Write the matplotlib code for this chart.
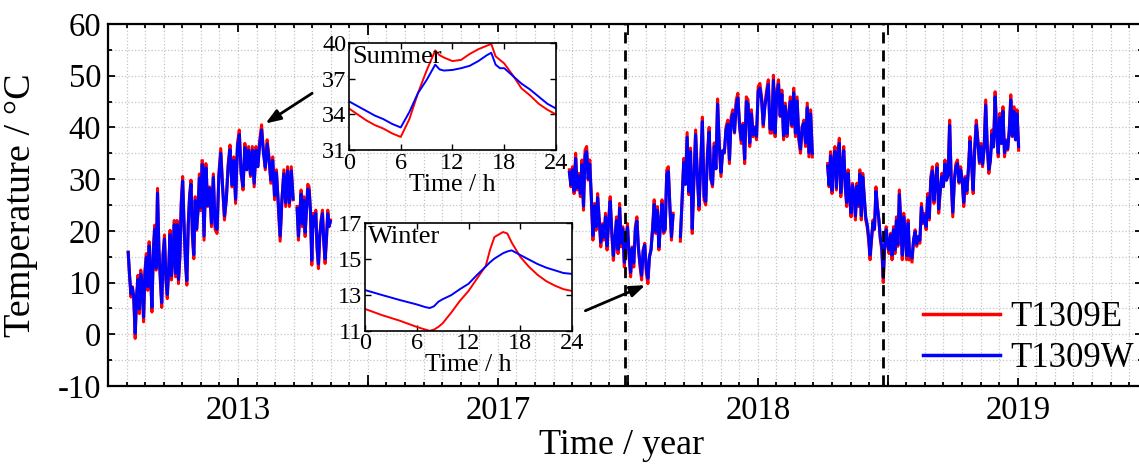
import numpy as np
import matplotlib.pyplot as plt
from matplotlib.ticker import MultipleLocator, FixedLocator, FixedFormatter

plt.rcParams['font.family'] = ['Liberation Serif', 'DejaVu Serif']
plt.rcParams['axes.unicode_minus'] = False

# time axis in days, one 365-day block per year label
year_labels = ['2013', '2017', '2018', '2019']
year_len = 365
x_end = 1452
marker_days = [726.6, 1088.8]

# daily record pieces: (first day, last day), T1309E, T1309W
a1_days = (28.4, 132.3)
a1_e = [15.9, 11.1, 7.2, 9.2, 6.6, -0.8, 7.2, 11.4, 4.0, 12.4, 9.8, 2.4, 12.4, 15.6, 8.5, 17.9, 11.7, 4.3,
        16.6, 21.1, 12.4, 28.2, 16.3, 10.5, 5.2, 15.6, 19.2, 10.5, 6.9, 12.4, 20.1, 10.5, 14.9, 22.0, 11.1,
        22.0, 9.8, 14.9, 25.6, 30.5, 21.4, 13.7, 9.5, 21.4, 27.2, 29.8, 18.8, 14.6, 26.6, 20.1, 23.9, 31.0,
        23.9, 33.5]
a1_w = [15.8, 11.3, 7.8, 9.0, 7.2, 0.2, 7.4, 10.6, 4.9, 11.6, 9.8, 3.3, 11.7, 14.9, 9.2, 17.1, 11.7, 5.2,
        16.0, 20.3, 12.8, 27.3, 16.3, 11.0, 6.1, 15.4, 18.4, 11.0, 7.7, 12.6, 19.3, 11.3, 14.9, 21.2, 11.8,
        21.2, 10.6, 15.0, 24.9, 29.6, 21.2, 14.4, 10.4, 21.0, 26.5, 29.0, 19.4, 15.4, 25.9, 20.4, 23.9, 30.2,
        24.5, 32.7]

a2_days = (132.3, 260.0)
a2_e = [33.5, 18.2, 33.0, 24.7, 28.5, 20.8, 31.0, 20.2, 19.5, 31.1, 35.9, 28.5, 22.1, 26.0, 33.0, 36.6,
        28.5, 34.3, 25.3, 36.9, 39.5, 31.1, 27.9, 36.9, 31.8, 36.3, 30.5, 36.3, 28.5, 36.3, 32.4, 37.6,
        40.5, 35.6, 31.8, 37.6, 34.3, 29.2, 34.3, 26.0, 31.8, 24.7, 18.0, 26.0, 31.8, 24.7, 32.4, 24.7,
        32.4, 26.0]
a2_w = [32.7, 19.0, 32.2, 24.9, 28.2, 21.5, 30.3, 20.9, 20.3, 30.5, 35.0, 28.5, 22.9, 26.2, 32.4, 35.7,
        28.9, 33.6, 26.1, 36.1, 38.6, 31.1, 28.6, 36.1, 31.8, 35.6, 30.9, 35.6, 29.2, 35.6, 32.4, 36.8,
        39.5, 35.1, 32.3, 36.8, 33.8, 29.8, 33.6, 26.8, 31.2, 25.5, 19.0, 26.3, 31.0, 25.4, 31.6, 25.4,
        31.6, 26.2]

a3_days = (265.6, 312.4)
a3_e = [24.7, 18.2, 23.4, 27.9, 20.8, 26.6, 18.9, 24.0, 29.0, 28.5, 24.0, 13.4, 23.4, 20.8, 24.0, 16.3,
        12.7, 18.9, 22.1, 24.0, 17.6, 13.7, 18.2, 24.0, 20.8, 22.1]
a3_w = [24.3, 19.0, 23.3, 27.1, 21.4, 25.9, 19.7, 23.8, 28.1, 27.8, 23.8, 14.3, 22.8, 21.0, 23.4, 16.9,
        13.6, 19.1, 21.7, 23.3, 18.1, 14.6, 18.6, 23.3, 20.9, 21.8]

b_days = (647.9, 793.5)
b_e = [31.8, 28.5, 32.4, 27.2, 35.0, 27.9, 31.1, 26.6, 33.7, 24.0, 35.6, 36.3, 29.8, 33.7, 26.0, 18.2,
       25.3, 20.1, 27.2, 22.1, 16.9, 21.4, 18.2, 23.4, 16.3, 22.1, 26.6, 19.5, 14.3, 18.2, 22.7, 15.6,
       25.3, 16.9, 20.8, 13.0, 18.2, 21.4, 15.0, 11.1, 16.9, 13.0, 20.8, 22.7, 16.3, 13.0, 10.5, 16.3,
       17.6, 11.8, 9.8, 15.0, 16.3, 20.8, 26.0, 19.5, 24.7, 16.3, 21.4, 26.0, 19.5, 20.1, 31.8, 32.4,
       24.7, 18.2, 23.4]
b_w = [31.3, 28.9, 31.8, 27.7, 34.0, 28.3, 30.6, 27.2, 32.8, 24.8, 34.6, 35.3, 30.1, 32.9, 26.5, 19.1,
       24.8, 20.8, 26.4, 22.3, 17.8, 21.0, 18.8, 22.7, 17.1, 21.8, 25.7, 19.9, 15.2, 18.4, 22.0, 16.4,
       24.4, 17.6, 20.4, 13.9, 18.2, 20.7, 15.7, 12.0, 16.6, 13.8, 20.1, 21.9, 16.6, 13.8, 11.4, 16.2,
       17.2, 12.6, 10.8, 15.0, 16.4, 20.3, 25.1, 19.9, 24.0, 16.9, 21.0, 25.2, 19.9, 20.4, 30.9, 31.5,
       24.6, 18.9, 23.0]

c_days = (803.8, 989.1)
c_e = [18.0, 26.0, 34.0, 29.0, 39.0, 27.0, 36.0, 19.5, 30.0, 39.5, 31.0, 24.0, 33.0, 42.0, 26.0, 25.0,
       35.0, 40.0, 30.0, 28.5, 37.0, 32.0, 45.5, 36.3, 30.5, 35.6, 35.0, 40.1, 41.4, 33.0, 42.1, 43.4,
       38.9, 45.3, 46.6, 40.1, 36.9, 40.8, 33.0, 45.9, 45.3, 36.3, 43.4, 38.2, 40.1, 37.6, 47.9, 48.5,
       45.9, 40.1, 44.7, 47.2, 49.2, 38.9, 38.9, 50.1, 38.2, 47.2, 49.2, 42.1, 47.2, 37.6, 44.7, 38.2,
       42.7, 45.9, 40.1, 47.6, 38.2, 45.9, 37.6, 35.0, 40.1, 41.4, 36.3, 44.7, 34.3, 43.4, 34.3]
c_w = [18.9, 25.8, 33.2, 29.0, 38.1, 27.6, 35.3, 20.4, 29.8, 38.6, 30.8, 24.8, 32.6, 41.1, 26.7, 25.7,
       34.5, 39.1, 30.2, 29.0, 36.3, 32.0, 44.5, 36.6, 31.3, 35.4, 35.2, 39.6, 40.6, 33.8, 41.3, 42.6,
       39.1, 44.4, 45.7, 40.3, 37.6, 40.4, 33.9, 45.0, 44.5, 37.0, 42.6, 38.6, 39.9, 38.3, 47.0, 47.6,
       45.3, 40.6, 44.1, 46.4, 48.3, 39.7, 39.6, 49.1, 38.9, 46.4, 48.3, 42.3, 46.4, 38.4, 44.1, 38.8,
       42.3, 45.0, 40.5, 46.7, 38.9, 45.1, 38.2, 35.8, 40.1, 40.8, 37.0, 43.8, 35.1, 42.6, 35.0]

d_days = (1010.6, 1125.7)
d_e = [33.0, 28.5, 35.3, 27.2, 33.7, 36.3, 27.9, 35.0, 37.9, 26.6, 32.4, 36.3, 28.5, 24.7, 31.8, 26.6,
       22.7, 29.2, 27.2, 22.1, 29.2, 24.7, 31.8, 22.1, 31.1, 26.6, 22.1, 20.8, 18.2, 14.4, 18.2, 22.1,
       20.2, 28.5, 24.7, 22.1, 18.2, 16.3, 10.0, 17.0, 20.8, 17.0, 15.6, 19.5, 14.4, 20.8, 15.6, 22.7,
       17.0, 27.9, 21.4, 14.4, 23.4, 18.9, 14.4, 22.1, 14.4]
d_w = [32.5, 28.9, 34.5, 27.8, 33.3, 35.4, 28.4, 34.4, 36.9, 27.4, 32.0, 35.5, 28.9, 25.5, 31.1, 27.0,
       23.5, 28.8, 27.2, 22.9, 28.6, 25.0, 31.0, 22.9, 30.4, 26.6, 22.8, 21.3, 18.9, 15.3, 18.6, 21.6,
       20.4, 27.6, 24.6, 22.2, 18.7, 17.0, 11.0, 17.4, 20.2, 17.3, 16.3, 19.2, 15.3, 20.2, 16.3, 22.0,
       17.4, 27.0, 21.2, 15.3, 22.7, 19.0, 15.2, 21.5, 15.2]

e_days = (1129.1, 1278.8)
e_e = [14.0, 18.2, 20.2, 17.0, 18.9, 17.6, 25.3, 21.4, 23.4, 20.2, 27.2, 22.1, 30.5, 32.4, 25.3, 29.8,
       33.0, 23.4, 27.9, 31.1, 28.5, 33.7, 29.8, 31.1, 41.4, 29.8, 22.7, 29.8, 33.0, 33.7, 29.2, 32.4,
       29.8, 24.7, 30.5, 27.2, 32.4, 38.2, 33.0, 27.2, 36.3, 41.4, 37.6, 33.0, 36.9, 32.4, 36.3, 45.3,
       36.3, 31.1, 33.7, 39.5, 36.3, 46.9, 39.5, 34.3, 42.7, 36.9, 44.0, 34.3, 37.6, 35.6, 39.5, 46.3,
       38.2, 44.0, 37.6, 43.4, 35.6]
e_w = [14.8, 18.3, 19.8, 17.5, 18.8, 18.2, 24.6, 21.7, 23.0, 20.8, 26.4, 22.6, 29.9, 31.6, 25.9, 29.4,
       32.2, 24.2, 27.8, 30.5, 28.6, 32.9, 29.8, 30.8, 40.4, 29.8, 23.6, 29.6, 32.5, 33.0, 29.5, 31.8,
       29.8, 25.5, 30.1, 27.8, 31.9, 37.3, 33.0, 27.9, 35.6, 40.5, 37.2, 33.4, 36.3, 32.9, 35.8, 44.3,
       36.2, 31.9, 33.6, 38.7, 36.2, 45.9, 39.0, 35.0, 41.9, 36.9, 43.1, 35.1, 37.3, 35.9, 39.0, 45.3,
       38.4, 43.1, 37.6, 42.6, 36.3]

pieces = [(a1_days, a1_e, a1_w), (a2_days, a2_e, a2_w), (a3_days, a3_e, a3_w),
          (b_days, b_e, b_w), (c_days, c_e, c_w), (d_days, d_e, d_w), (e_days, e_e, e_w)]

# typical summer / winter day, hourly
summer_h = [0, 1, 2, 3, 4, 5, 6, 7, 8, 9, 10, 10.5, 11, 12, 13, 14, 15, 16, 16.5, 17, 17.5, 18,
            19, 20, 21, 22, 23, 24]
summer_e = [34.5, 34.0, 33.5, 33.1, 32.8, 32.4, 32.1, 33.6, 35.8, 37.7, 39.4, 39.0, 38.8, 38.5, 38.6,
            39.1, 39.5, 39.8, 39.95, 38.9, 38.6, 38.3, 37.3, 36.2, 35.6, 34.9, 34.4, 34.0]
summer_w = [35.1, 34.7, 34.3, 33.9, 33.6, 33.2, 32.9, 34.2, 35.8, 36.9, 38.2, 37.8, 37.7, 37.75, 37.9,
            38.1, 38.5, 39.0, 39.2, 38.2, 37.9, 37.9, 37.25, 36.6, 36.1, 35.5, 34.9, 34.5]

winter_h = [0, 2, 4, 6, 7, 7.5, 8, 8.5, 9, 10, 11, 12, 13, 14, 14.5, 15, 16, 16.5, 17, 18, 19, 20,
            21, 22, 23, 24]
winter_e = [12.2, 11.85, 11.55, 11.2, 11.05, 10.98, 11.05, 11.2, 11.4, 12.0, 12.65, 13.2, 13.9, 14.6,
            15.5, 16.2, 16.48, 16.4, 15.9, 15.1, 14.55, 14.1, 13.75, 13.5, 13.3, 13.2]
winter_w = [13.25, 12.97, 12.7, 12.45, 12.3, 12.25, 12.35, 12.6, 12.74, 12.97, 13.3, 13.6, 14.1, 14.56,
            14.8, 15.0, 15.3, 15.4, 15.46, 15.2, 14.95, 14.7, 14.5, 14.35, 14.2, 14.15]

red = '#ff0000'
blue = '#0000ff'

fig = plt.figure(figsize=(11.39, 4.69), dpi=100)
ax = fig.add_axes([0.0948, 0.177, 0.9078, 0.7719])

for (d0, d1), te, tw in pieces:
    ax.plot(np.linspace(d0, d1, len(te)), te, color=red, lw=2.2, zorder=3)
for (d0, d1), te, tw in pieces:
    ax.plot(np.linspace(d0, d1, len(tw)), tw, color=blue, lw=2.2, zorder=4)

for d in marker_days:
    ax.axvline(d, color='k', ls=(0, (4, 2.5)), lw=2, zorder=5)

ax.set_xlim(0, x_end)
ax.set_ylim(-10, 60)

centers = [year_len * (i + 0.5) for i in range(len(year_labels))]
bounds = [year_len * (i + 1) for i in range(len(year_labels) - 1)]
ax.xaxis.set_major_locator(FixedLocator(centers))
ax.xaxis.set_major_formatter(FixedFormatter(year_labels))
ax.xaxis.set_minor_locator(MultipleLocator(year_len / 14))
ax.yaxis.set_major_locator(MultipleLocator(10))
ax.yaxis.set_minor_locator(MultipleLocator(5))
ax.tick_params(which='both', direction='in', top=True, right=True, width=1.3)
ax.tick_params(which='major', length=6, labelsize=23.5)
ax.tick_params(axis='y', which='major', length=5, pad=5)
ax.tick_params(axis='x', which='major', pad=7)
ax.tick_params(which='minor', length=3)
# longer marks where one year block ends
ax.vlines(bounds, 0, 0.03, transform=ax.get_xaxis_transform(), color='k', lw=1.3)
ax.vlines(bounds, 0.97, 1, transform=ax.get_xaxis_transform(), color='k', lw=1.3)

ax.grid(which='both', color='#c4c4c4', ls=':', lw=0.9)
ax.set_axisbelow(True)
for s in ax.spines.values():
    s.set_linewidth(1.6)

ax.set_ylabel('Temperature / °C', fontsize=27.5)
ax.yaxis.set_label_coords(-0.068, 0.5)
ax.set_xlabel('Time / year', fontsize=26)
ax.xaxis.set_label_coords(0.497, -0.118)

ax.plot([], [], color=red, lw=2.5, label='T1309E')
ax.plot([], [], color=blue, lw=2.5, label='T1309W')
ax.legend(loc='lower right', bbox_to_anchor=(0.992, 0.03), frameon=False, fontsize=25,
          handlelength=2.2, handletextpad=0.3, labelspacing=0.22, borderaxespad=0, borderpad=0)

arrow = dict(arrowstyle='-|>,head_length=0.6,head_width=0.22', color='k', lw=2,
             shrinkA=0, shrinkB=0, mutation_scale=15)
ax.annotate('', xy=(221.1, 40.75), xytext=(286.7, 46.6), arrowprops=arrow, zorder=6)
ax.annotate('', xy=(754.6, 9.5), xytext=(670.4, 4.55), arrowprops=arrow, zorder=6)


def day_inset(rect, hours, te, tw, ylim, yticks, name):
    ia = fig.add_axes(rect)
    ia.set_facecolor('white')
    ia.plot(hours, te, color=red, lw=1.4)
    ia.plot(hours, tw, color=blue, lw=1.4)
    ia.set_xlim(0, 24)
    ia.set_ylim(*ylim)
    ia.set_xticks([0, 6, 12, 18, 24])
    ia.set_yticks(yticks)
    ia.tick_params(direction='in', top=True, right=True, length=4, width=1,
                   labelsize=17.5, pad=2)
    for s in ia.spines.values():
        s.set_linewidth(1.2)
    ia.set_xlabel('Time / h', fontsize=18.5, labelpad=0)
    ia.text(0.015, 0.97, name, transform=ia.transAxes, fontsize=19, va='top', ha='left')
    return ia


day_inset([0.3064, 0.6802, 0.1817, 0.2275], summer_h, summer_e, summer_w,
          (31, 40), [31, 34, 37, 40], 'Summer')
day_inset([0.3205, 0.2953, 0.1817, 0.2299], winter_h, winter_e, winter_w,
          (11, 17), [11, 13, 15, 17], 'Winter')

fig.savefig('out.png', dpi=100)
